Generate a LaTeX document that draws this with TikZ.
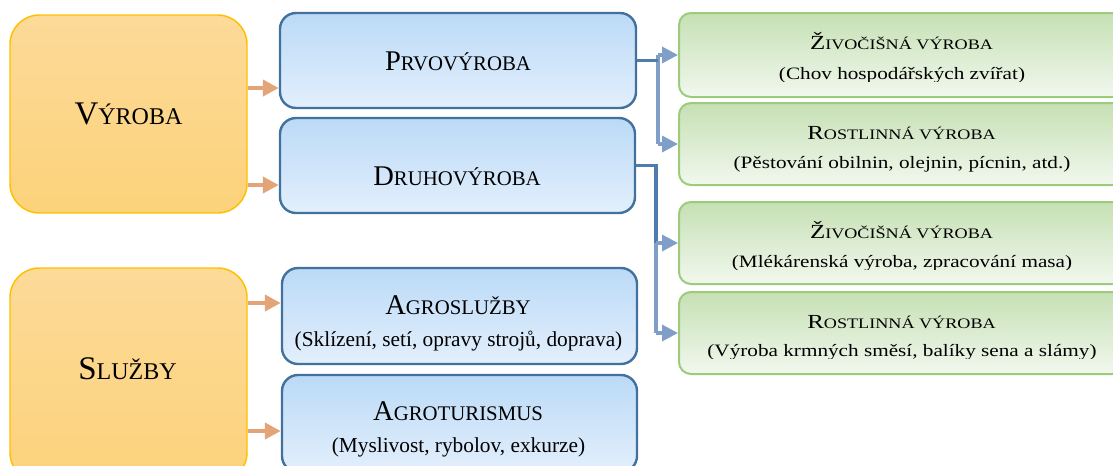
\documentclass[tikz,border=0pt]{standalone}
\usepackage{fontspec}
\setmainfont{Liberation Serif}
\usepackage{graphicx}
\usetikzlibrary{fit,arrows.meta}
\definecolor{oBorder}{HTML}{FFC000}
\definecolor{oTop}{HTML}{FCDA98}
\definecolor{oBot}{HTML}{FCD27B}
\definecolor{bBorder}{HTML}{41719C}
\definecolor{bTop}{HTML}{BBDAF7}
\definecolor{bBot}{HTML}{E3EFFC}
\definecolor{gBorder}{HTML}{9CCB7C}
\definecolor{gTop}{HTML}{C6E0B4}
\definecolor{gBot}{HTML}{F1F8EE}
\definecolor{oArrow}{HTML}{E3A47A}
\definecolor{bDark}{HTML}{4E7CAC}
\definecolor{bLight}{HTML}{7F9FC8}
\newcommand\SC[4]{{\fontsize{#1}{#1}\selectfont #3}{\fontsize{#2}{#2}\selectfont #4}}
\newcommand\otitle[2]{\SC{24.75pt}{18pt}{#1}{#2}}
\newcommand\btitle[2]{\SC{21.4pt}{15.6pt}{#1}{#2}}
\newcommand\gtitle[2]{\scalebox{1}[0.8]{\SC{18.7pt}{13.6pt}{#1}{#2}}}
\newcommand\bsub[1]{{\fontsize{16pt}{16pt}\selectfont #1}}
\newcommand\gsub[1]{\scalebox{1}[0.82]{\fontsize{15.9pt}{15.9pt}\selectfont #1}}
\begin{document}
\begin{tikzpicture}[x=0.75pt,y=-0.75pt,
  obox/.style={draw=oBorder, line width=1.1pt, rounded corners=22pt, top color=oTop, bottom color=oBot, inner sep=0pt},
  bbox/.style={draw=bBorder, line width=1.8pt, rounded corners=12pt, top color=bTop, bottom color=bBot, inner sep=0pt},
  gbox/.style={draw=gBorder, line width=1.5pt, rounded corners=9pt, top color=gTop, bottom color=gBot, inner sep=0pt},
  txt/.style={anchor=base, inner sep=0pt},
  oarr/.style={draw=oArrow, line width=3pt, -{Triangle[length=12pt,width=12pt]}},
  bdk/.style={draw=bDark, line width=2.6pt},
  blt/.style={draw=bLight, line width=2.6pt},
  barr/.style={draw=bLight, line width=2.6pt, -{Triangle[length=12pt,width=12pt]}}
]
\useasboundingbox (0,0) rectangle (1113,465);
\clip (0,0) rectangle (1113,465);

% boxes
\node[obox, fit={(10,15) (247,213)}] (vy) {};
\node[obox, fit={(10,268) (247,482)}] (sl) {};
\node[bbox, fit={(280,13) (636,108)}] (pr) {};
\node[bbox, fit={(280,118) (635,213)}] (dr) {};
\node[bbox, fit={(282,268) (637,364)}] (ag) {};
\node[bbox, fit={(282,375) (637,472)}] (at) {};
\node[gbox, fit={(679,13) (1124,97)}] (g1) {};
\node[gbox, fit={(679,103) (1124,185)}] (g2) {};
\node[gbox, fit={(679,202) (1124,284)}] (g3) {};
\node[gbox, fit={(679,292) (1124,374)}] (g4) {};

% texts
\node[txt] (tvy) at (128.5,124.5) {\otitle{V}{ÝROBA}};
\node[txt] (tsl) at (127.5,379) {\otitle{S}{LUŽBY}};
\node[txt] (tpr) at (458,70.5) {\btitle{P}{RVOVÝROBA}};
\node[txt] (tdr) at (457,185) {\btitle{D}{RUHOVÝROBA}};
\node[txt] (tag) at (458,314) {\btitle{A}{GROSLUŽBY}};
\node[txt] (sag) at (458.5,346) {\bsub{(Sklízení, setí, opravy strojů, doprava)}};
\node[txt] (tat) at (458,420) {\btitle{A}{GROTURISMUS}};
\node[txt] (sat) at (458.5,452) {\bsub{(Myslivost, rybolov, exkurze)}};

\node[txt] (tg1) at (901.5,49) {\gtitle{Ž}{IVOČIŠNÁ VÝROBA}};
\node[txt] (tg2) at (901.5,139.5) {\gtitle{R}{OSTLINNÁ VÝROBA}};
\node[txt] (tg3) at (901.5,238.3) {\gtitle{Ž}{IVOČIŠNÁ VÝROBA}};
\node[txt] (tg4) at (901.5,328.3) {\gtitle{R}{OSTLINNÁ VÝROBA}};
\begin{scope}
  \clip (679,55) rectangle (1113,81);
  \node[txt] (sg1) at (902,79) {\gsub{(Chov hospodářských zvířat)}};
\end{scope}
\begin{scope}
  \clip (679,145) rectangle (1113,171);
  \node[txt] (sg2) at (902,168.5) {\gsub{(Pěstování obilnin, olejnin, pícnin, atd.)}};
\end{scope}
\begin{scope}
  \clip (679,244) rectangle (1113,269.5);
  \node[txt] (sg3) at (902,267.3) {\gsub{(Mlékárenská výroba, zpracování masa)}};
\end{scope}
\begin{scope}
  \clip (679,334) rectangle (1113,358.5);
  \node[txt] (sg4) at (902,356.7) {\gsub{(Výroba krmných směsí, balíky sena a slámy)}};
\end{scope}

% orange connectors
\draw[oarr] (vy.east |- 0,88) -- (pr.west |- 0,88);
\draw[oarr] (vy.east |- 0,185) -- (dr.west |- 0,185);
\draw[oarr] (sl.east |- 0,303) -- (ag.west |- 0,303);
\draw[oarr] (sl.east |- 0,431) -- (at.west |- 0,431);

% blue connectors
\coordinate (j1) at (658,60.5);
\coordinate (j2) at (656,165.5);
\draw[blt] (j1 |- g1.west) -- (j1 |- g2.west);
\draw[bdk] (pr.east) -- (j1);
\draw[barr] (j1 |- g1.west) -- (g1.west);
\draw[barr] (j1 |- g2.west) -- (g2.west);
\draw[blt] (j2 |- g3.west) -- (j2 |- g4.west);
\draw[bdk] (dr.east) -- (j2) -- (j2 |- g3.west);
\draw[barr] (j2 |- g3.west) -- (g3.west);
\draw[barr] (j2 |- g4.west) -- (g4.west);
\end{tikzpicture}
\end{document}
